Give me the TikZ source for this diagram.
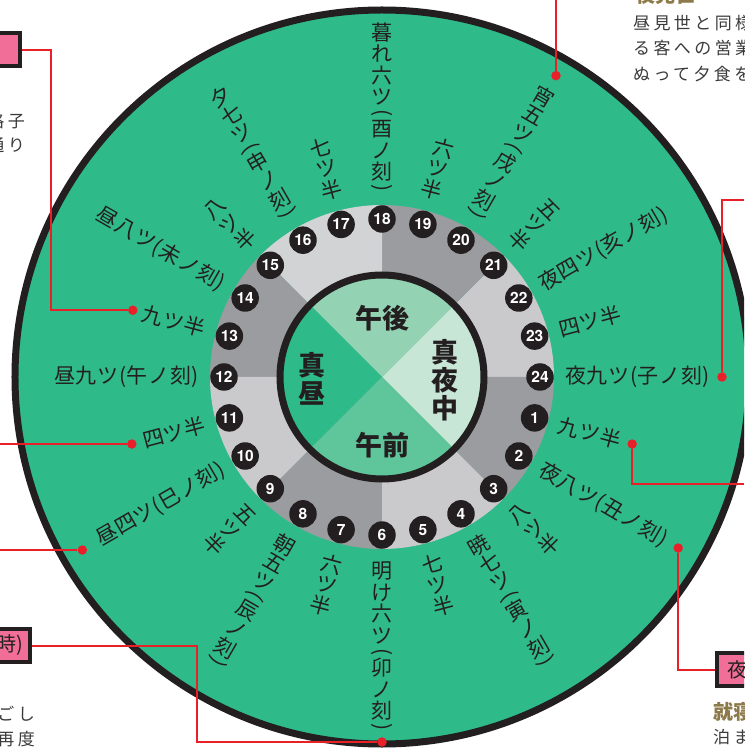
\documentclass[tikz,border=0pt]{standalone}
\usepackage{fontspec}
\usepackage{graphicx}
\usepackage{xcolor}
\usetikzlibrary{positioning}

\setmainfont{Noto Sans CJK JP}
\newfontfamily\numfont{TeX Gyre Heros}

\definecolor{clockgreen}{HTML}{2FBA8A}
\definecolor{mintpale}{HTML}{C8E6D6}
\definecolor{mintmid}{HTML}{93D3B3}
\definecolor{mintdeep}{HTML}{5FC59A}
\definecolor{graylight}{HTML}{CACACC}
\definecolor{graypale}{HTML}{D2D3D5}
\definecolor{graydark}{HTML}{9B9CA0}
\definecolor{inkblack}{HTML}{231F20}
\definecolor{linkred}{HTML}{E8202A}
\definecolor{tagpink}{HTML}{F06E97}
\definecolor{goldbrown}{HTML}{8C7A4A}
\definecolor{notegray}{HTML}{3A3A3A}

% vertical (tategaki) text: one box per character
\newdimen\tatepitch
\newcommand{\tate}[2][21.5pt]{%
	\tatepitch=#1\relax
	\vbox{\offinterlineskip\tateloop#2\relax}}
\def\tateloop#1{%
	\ifx\relax#1\else
		\tatechar{#1}%
		\expandafter\tateloop
	\fi}
\newcommand{\tatechar}[1]{%
	\if(#1\tatepar{(}\else
	\if)#1\tatepar{)}\else
	\hbox to \tatepitch{\hss\vbox to \tatepitch{\vss\hbox{#1}\vss}\hss}%
	\fi\fi}
\newcommand{\tatepar}[1]{%
	\hbox to \tatepitch{\hss\vbox to 11pt{\vss\hbox{\rotatebox{-90}{#1}}\vss}\hss}}

\begin{document}
\begin{tikzpicture}[
		x=1pt, y=1pt,
		hour/.style={
			circle,
			fill=inkblack,
			minimum size=27.5,
			inner sep=0,
			text=white,
			font=\numfont\bfseries\fontsize{15.5}{15.5}\selectfont
		},
		outlabel/.style={
			inner sep=0,
			text=inkblack,
			font=\fontsize{21}{21}\selectfont\addfontfeatures{LetterSpace=3}
		},
		quarter/.style={
			inner sep=0,
			text=inkblack,
			align=center,
			font=\bfseries\fontsize{27}{28}\selectfont
		},
		reddot/.style={
			circle,
			fill=linkred,
			minimum size=9.5,
			inner sep=0
		},
		link/.style={
			linkred,
			line width=2
		},
		tagbox/.style={
			rectangle,
			fill=tagpink,
			draw=inkblack,
			line width=4,
			minimum height=33,
			text width=90,
			inner xsep=8,
			text=inkblack,
			font=\fontsize{20}{20}\selectfont
		},
		notetext/.style={
			inner sep=0,
			text=notegray,
			font=\fontsize{17}{24.5}\selectfont\addfontfeatures{LetterSpace=20}
		},
		headtext/.style={
			inner sep=0,
			text=goldbrown,
			font=\bfseries\fontsize{20}{20}\selectfont
		}
	]

	\useasboundingbox (-382,-372) rectangle (362,377);
	\clip (-382,-372) rectangle (362,377);

	% dial
	\draw[line width=7, draw=inkblack, fill=clockgreen] (0,0) circle (367);
	\foreach \a/\c in {0/graylight, 45/graydark, 90/graypale, 135/graydark,
			180/graylight, 225/graydark, 270/graylight, 315/graydark}
		\fill[\c] (0,0) -- (\a:172) arc (\a:\a+45:172) -- cycle;

	\fill[mintpale] (0,0) -- (-45:102) arc (-45:45:102) -- cycle;
	\fill[mintmid] (0,0) -- (45:102) arc (45:135:102) -- cycle;
	\fill[clockgreen] (0,0) -- (135:102) arc (135:225:102) -- cycle;
	\fill[mintdeep] (0,0) -- (225:102) arc (225:315:102) -- cycle;
	\draw[line width=7, draw=inkblack] (0,0) circle (102);

	\node[quarter] (gogo) at (0,59) {午後};
	\node[quarter] (gozen) at (0,-68) {午前};
	\node[quarter] (mayonaka) at (63,-3) {\tate[28pt]{真夜中}};
	\node[quarter] (mahiru) at (-70,-2) {\tate[28pt]{真昼}};

	\foreach \n in {1,...,24}
		\node[hour] (h\n) at ({(24-\n)*15}:158) {\n};

	% right side, read outward
	\node[outlabel, anchor=west] (l24) at (0:183) {夜九ツ(子ノ刻)};
	\node[outlabel, anchor=west, rotate=15] (l23) at (15:183) {四ツ半};
	\node[outlabel, anchor=west, rotate=30] (l22) at (30:183) {夜四ツ(亥ノ刻)};
	\node[outlabel, anchor=west, rotate=-15] (l1) at (-15:183) {九ツ半};
	\node[outlabel, anchor=west, rotate=-30] (l2) at (-30:183) {夜八ツ(丑ノ刻)};
	% left side, read inward
	\node[outlabel, anchor=east, rotate=-30] (l14) at (150:183) {昼八ツ(未ノ刻)};
	\node[outlabel, anchor=east, rotate=-15] (l13) at (165:183) {九ツ半};
	\node[outlabel, anchor=east] (l12) at (180:183) {昼九ツ(午ノ刻)};
	\node[outlabel, anchor=east, rotate=15] (l11) at (195:183) {四ツ半};
	\node[outlabel, anchor=east, rotate=30] (l10) at (210:183) {昼四ツ(巳ノ刻)};
	% top, vertical
	\node[outlabel, anchor=south, rotate=-45] (l21) at (45:183) {\tate{五ツ半}};
	\node[outlabel, anchor=south, rotate=-30] (l20) at (60:183) {\tate{宵五ツ(戌ノ刻)}};
	\node[outlabel, anchor=south, rotate=-15] (l19) at (75:183) {\tate{六ツ半}};
	\node[outlabel, anchor=south] (l18) at (90:183) {\tate{暮れ六ツ(酉ノ刻)}};
	\node[outlabel, anchor=south, rotate=15] (l17) at (105:183) {\tate{七ツ半}};
	\node[outlabel, anchor=south, rotate=30] (l16) at (120:183) {\tate{夕七ツ(申ノ刻)}};
	\node[outlabel, anchor=south, rotate=45] (l15) at (135:183) {\tate{八ツ半}};
	% bottom, vertical
	\node[outlabel, anchor=north, rotate=-45] (l9) at (225:183) {\tate{五ツ半}};
	\node[outlabel, anchor=north, rotate=-30] (l8) at (240:183) {\tate{朝五ツ(辰ノ刻)}};
	\node[outlabel, anchor=north, rotate=-15] (l7) at (255:183) {\tate{六ツ半}};
	\node[outlabel, anchor=north] (l6) at (270:183) {\tate{明け六ツ(卯ノ刻)}};
	\node[outlabel, anchor=north, rotate=15] (l5) at (285:183) {\tate{七ツ半}};
	\node[outlabel, anchor=north, rotate=30] (l4) at (300:183) {\tate{暁七ツ(寅ノ刻)}};
	\node[outlabel, anchor=north, rotate=45] (l3) at (315:183) {\tate{八ツ半}};

	% callouts
	\node[reddot] (d13) at (165:258) {};
	\node[reddot] (d20) at (60:348) {};
	\node[reddot] (d24) at (0:340) {};
	\node[reddot] (d1) at (-15:259) {};
	\node[reddot] (d2) at (-30:342) {};
	\node[reddot] (d11) at (195:259) {};
	\node[reddot] (d10) at (210:346) {};
	\node[reddot] (d6) at (270:365) {};

	\node[tagbox, anchor=east, align=right] (boxTL) at (-360,327) {};
	\node[tagbox, anchor=east, align=right, inner xsep=7] (boxBL) at (-350,-268.5) {時)};
	\node[tagbox, anchor=west, align=left, inner xsep=10] (boxBR) at (333,-292.5) {夜};

	\node[notetext, anchor=north east, align=right] (koushi) at (-357,264) {格子\\通り};
	\node[headtext, anchor=south west] (yomiseh) at (253,372.5) {夜見世};
	\node[notetext, anchor=north west, align=left, font=\fontsize{17}{25.5}\selectfont\addfontfeatures{LetterSpace=20}] (yomise) at (251,362) {昼見世と同様\\る客への営業\\ぬって夕食を};
	\node[notetext, anchor=north east, align=right] (gosi) at (-347,-329) {ごし\\再度};
	\node[headtext, anchor=west] (shushin) at (331,-335) {就寝};
	\node[notetext, below=7pt of shushin.south west, anchor=north west] (tomari) {泊ま};

	\coordinate (edgeN) at (0,377);
	\coordinate (edgeE) at (362,0);
	\coordinate (edgeW) at (-382,0);
	\coordinate (k13) at (-331,0);
	\coordinate (k24) at (0,177);
	\coordinate (k1) at (0,-107);
	\coordinate (k6) at (-185,0);

	\draw[link] (boxTL.east) -| (k13 |- d13) -- (d13);
	\draw[link] (d20) -- (d20 |- edgeN);
	\draw[link] (d24) |- (edgeE |- k24);
	\draw[link] (d1) |- (edgeE |- k1);
	\draw[link] (d2) |- (boxBR.west);
	\draw[link] (edgeW |- d11) -- (d11);
	\draw[link] (edgeW |- d10) -- (d10);
	\draw[link] (boxBL.east) -| (k6 |- d6) -- (d6);

\end{tikzpicture}
\end{document}
